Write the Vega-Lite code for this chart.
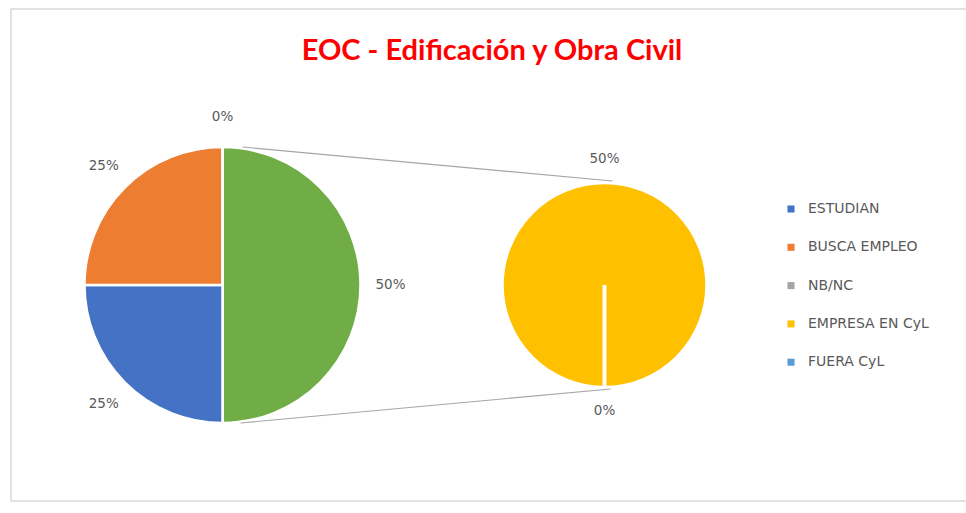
{
  "$schema": "https://vega.github.io/schema/vega-lite/v6.json",
  "autosize": {"type": "none"},
  "width": 970,
  "height": 492,
  "padding": {"left": 11, "top": 9, "right": 0, "bottom": 12},
  "background": "white",
  "view": {"stroke": "#d9d9d9", "strokeWidth": 1.5, "fill": "white"},
  "config": {"font": "DejaVu Sans"},
  "title": {
    "text": "EOC - Edificación y Obra Civil",
    "color": "#FF0000",
    "fontSize": 29,
    "fontWeight": "bold",
    "font": "Lato",
    "anchor": "middle",
    "frame": "group",
    "offset": -57,
    "dx": -4
  },
  "datasets": {
    "principal": [
      {"pie": "principal", "categoria": "Otros", "pct": 0.5, "orden": 1},
      {"pie": "principal", "categoria": "ESTUDIAN", "pct": 0.25, "orden": 2},
      {"pie": "principal", "categoria": "BUSCA EMPLEO", "pct": 0.25, "orden": 3},
      {"pie": "principal", "categoria": "NB/NC", "pct": 0, "orden": 4}
    ],
    "secundario": [
      {"pie": "secundario", "categoria": "EMPRESA EN CyL", "pct": 0.5, "orden": 1},
      {"pie": "secundario", "categoria": "FUERA CyL", "pct": 0, "orden": 2}
    ],
    "conector": [
      {"desde": "principal", "hasta": "secundario"}
    ]
  },
  "layer": [
    {
      "data": {"name": "principal"},
      "encoding": {
        "theta": {"field": "pct", "type": "quantitative", "stack": true, "scale": {"range": [0, 6.283185307]}},
        "order": {"field": "orden", "type": "quantitative"},
        "x": {"field": "pie", "type": "nominal", "axis": null, "scale": {"type": "point", "domain": ["principal", "secundario"], "range": [211.5, 593.5], "padding": 0}},
        "y": {"field": "pie", "type": "nominal", "axis": null, "scale": {"type": "point", "domain": ["principal", "secundario"], "range": [276, 276], "padding": 0}}
      },
      "layer": [
        {
          "mark": {"type": "arc", "outerRadius": 138, "stroke": "white", "strokeWidth": 2.5},
          "encoding": {
            "color": {
              "field": "categoria",
              "type": "nominal",
              "scale": {
                "domain": ["ESTUDIAN", "BUSCA EMPLEO", "NB/NC", "EMPRESA EN CyL", "FUERA CyL", "Otros"],
                "range": ["#4472C4", "#ED7D31", "#A5A5A5", "#FFC000", "#5B9BD5", "#70AD47"]
              },
              "legend": {
                "title": null,
                "values": ["ESTUDIAN", "BUSCA EMPLEO", "NB/NC", "EMPRESA EN CyL", "FUERA CyL"],
                "orient": "none",
                "legendX": 773,
                "legendY": 193,
                "symbolType": "square",
                "symbolSize": 50,
                "symbolStrokeWidth": 0,
                "labelFontSize": 14,
                "labelColor": "#595959",
                "labelFont": "DejaVu Sans",
                "rowPadding": 24.3,
                "labelOffset": 10
              }
            }
          }
        },
        {
          "mark": {"type": "text", "radius": 168, "fontSize": 13.5, "color": "#595959", "font": "DejaVu Sans"},
          "encoding": {
            "text": {"field": "pct", "type": "quantitative", "format": ".0%"}
          }
        }
      ]
    },
    {
      "data": {"name": "secundario"},
      "encoding": {
        "theta": {"field": "pct", "type": "quantitative", "stack": true, "scale": {"range": [3.141592654, 9.424777961]}},
        "order": {"field": "orden", "type": "quantitative"},
        "x": {"field": "pie", "type": "nominal", "axis": null},
        "y": {"field": "pie", "type": "nominal", "axis": null}
      },
      "layer": [
        {
          "mark": {"type": "arc", "outerRadius": 102.5, "stroke": "white", "strokeWidth": 3.5},
          "encoding": {
            "color": {"field": "categoria", "type": "nominal"}
          }
        },
        {
          "mark": {"type": "text", "radius": 126, "fontSize": 13.5, "color": "#595959", "font": "DejaVu Sans"},
          "encoding": {
            "text": {"field": "pct", "type": "quantitative", "format": ".0%"}
          }
        }
      ]
    },
    {
      "data": {"name": "conector"},
      "mark": {"type": "rule", "color": "#a6a6a6", "strokeWidth": 1.2, "xOffset": 20, "yOffset": -138, "x2Offset": 8, "y2Offset": -104},
      "encoding": {
        "x": {"field": "desde", "type": "nominal"},
        "x2": {"field": "hasta"},
        "y": {"field": "desde", "type": "nominal"},
        "y2": {"field": "hasta"}
      }
    },
    {
      "data": {"name": "conector"},
      "mark": {"type": "rule", "color": "#a6a6a6", "strokeWidth": 1.2, "xOffset": 18, "yOffset": 138, "x2Offset": 6, "y2Offset": 104},
      "encoding": {
        "x": {"field": "desde", "type": "nominal"},
        "x2": {"field": "hasta"},
        "y": {"field": "desde", "type": "nominal"},
        "y2": {"field": "hasta"}
      }
    }
  ],
  "resolve": {"scale": {"theta": "independent"}}
}
